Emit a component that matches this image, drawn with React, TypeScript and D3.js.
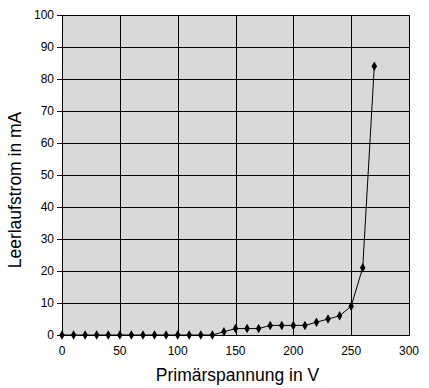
import React from "react";
import * as d3 from "d3";

// Leerlaufstrom vs. Primärspannung
const voltages = [0, 10, 20, 30, 40, 50, 60, 70, 80, 90, 100, 110, 120, 130, 140, 150, 160, 170, 180, 190, 200, 210, 220, 230, 240, 250, 260, 270];
const currents = [0, 0, 0, 0, 0, 0, 0, 0, 0, 0, 0, 0, 0, 0, 1, 2, 2, 2, 3, 3, 3, 3, 4, 5, 6, 9, 21, 84];
const xTicks = [0, 50, 100, 150, 200, 250, 300];
const yTicks = [0, 10, 20, 30, 40, 50, 60, 70, 80, 90, 100];

const width = 429;
const height = 388;
const margin = { left: 62, top: 15, right: 20, bottom: 53 };

const App = () => {
  const svgRef = React.useRef<SVGSVGElement>(null);

  React.useEffect(() => {
    const innerW = width - margin.left - margin.right;
    const innerH = height - margin.top - margin.bottom;

    const xScale = d3.scaleLinear().domain([0, 300]).range([0, innerW]);
    const yScale = d3.scaleLinear().domain([0, 100]).range([innerH, 0]);

    const svgEl = d3.select(svgRef.current);
    svgEl.selectAll("*").remove();
    const svg = svgEl
      .append("g")
      .attr("transform", `translate(${margin.left},${margin.top})`);

    // plot area
    svg
      .append("rect")
      .attr("x", 0)
      .attr("y", 0)
      .attr("width", innerW)
      .attr("height", innerH)
      .attr("fill", "#d9d9d9")
      .attr("stroke", "#000")
      .attr("stroke-width", 1)
      .attr("shape-rendering", "crispEdges");

    // grid lines
    svg
      .selectAll(".hgrid")
      .data(yTicks)
      .enter()
      .append("line")
      .attr("x1", -5)
      .attr("x2", innerW)
      .attr("y1", (d) => Math.round(yScale(d)) + 0.5)
      .attr("y2", (d) => Math.round(yScale(d)) + 0.5)
      .attr("stroke", "#000")
      .attr("stroke-width", 1);

    svg
      .selectAll(".vgrid")
      .data(xTicks)
      .enter()
      .append("line")
      .attr("x1", (d) => Math.round(xScale(d)) + 0.5)
      .attr("x2", (d) => Math.round(xScale(d)) + 0.5)
      .attr("y1", 0)
      .attr("y2", innerH)
      .attr("stroke", "#000")
      .attr("stroke-width", 1);

    // tick labels
    svg
      .selectAll(".ylab")
      .data(yTicks)
      .enter()
      .append("text")
      .attr("x", -8)
      .attr("y", (d) => yScale(d))
      .attr("dy", "0.35em")
      .attr("text-anchor", "end")
      .attr("font-family", "Liberation Sans, Arial, sans-serif")
      .attr("font-size", 12)
      .text((d) => d);

    svg
      .selectAll(".xlab")
      .data(xTicks)
      .enter()
      .append("text")
      .attr("x", (d) => xScale(d))
      .attr("y", innerH + 20)
      .attr("text-anchor", "middle")
      .attr("font-family", "Liberation Sans, Arial, sans-serif")
      .attr("font-size", 12)
      .text((d) => d);

    // axis titles
    svg
      .append("text")
      .attr("x", innerW / 2 + 2)
      .attr("y", innerH + 46)
      .attr("text-anchor", "middle")
      .attr("font-family", "Liberation Sans, Arial, sans-serif")
      .attr("font-size", 17.5)
      .text("Primärspannung in V");

    svg
      .append("text")
      .attr("transform", `translate(${-margin.left + 21},${innerH / 2 + 15}) rotate(-90)`)
      .attr("text-anchor", "middle")
      .attr("font-family", "Liberation Sans, Arial, sans-serif")
      .attr("font-size", 17.5)
      .text("Leerlaufstrom in mA");

    // data line
    const records = voltages.map((v, i) => ({ x: v, y: currents[i] }));
    const line = d3
      .line<{ x: number; y: number }>()
      .x((d) => xScale(d.x))
      .y((d) => yScale(d.y));

    svg
      .append("path")
      .datum(records)
      .attr("fill", "none")
      .attr("stroke", "#000")
      .attr("stroke-width", 1)
      .attr("d", line);

    const diamond = d3.symbol().type(d3.symbolDiamond).size(26);
    svg
      .selectAll(".dot")
      .data(records)
      .enter()
      .append("path")
      .attr("d", diamond)
      .attr("transform", (d) => `translate(${xScale(d.x)},${yScale(d.y)})`)
      .attr("fill", "#000");
  }, []);

  return (
    <svg
      ref={svgRef}
      width={width}
      height={height}
      style={{ position: "absolute", left: 0, top: 0, background: "#fff" }}
    />
  );
};

export default App;
